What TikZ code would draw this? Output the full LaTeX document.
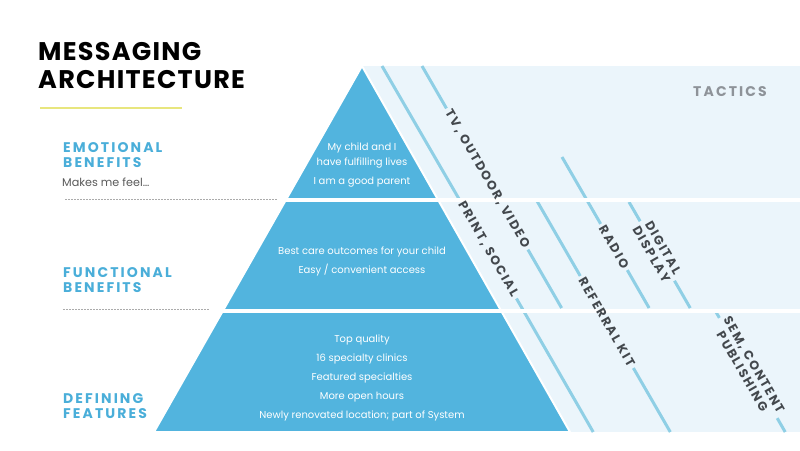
\documentclass[tikz,border=0pt]{standalone}
\usepackage{fontspec}
\usetikzlibrary{backgrounds}
\setmainfont{Poppins}
\newfontfamily\titlefont{Poppins}[LetterSpace=5]
\newfontfamily\capsfont{Poppins}[LetterSpace=15]
\newfontfamily\tacticfont{Poppins}[LetterSpace=14]
\definecolor{pyrblue}{HTML}{52B4DE}
\definecolor{paleblue}{HTML}{EBF5FB}
\definecolor{stripeblue}{HTML}{8FCFE5}
\definecolor{labelblue}{HTML}{4AAED9}
\definecolor{tacticgray}{HTML}{43484D}
\definecolor{headgray}{HTML}{8E9399}
\definecolor{dotgray}{HTML}{ABABAB}
\definecolor{accentyellow}{HTML}{E8E67E}
\begin{document}
\begin{tikzpicture}[x=1pt,y=-1pt,
    tiertext/.style={text=white,inner sep=0pt,align=center,anchor=north,font=\fontsize{10}{19}\selectfont},
    levellabel/.style={text=labelblue,inner sep=0pt,align=left,anchor=north west,font=\capsfont\bfseries\fontsize{14}{15}\selectfont},
    tactic/.style={text=tacticgray,inner sep=3pt,align=center,rotate=-60,font=\tacticfont\bfseries\fontsize{12.5}{13.5}\selectfont},
    stripe/.style={draw=stripeblue,line width=3pt},
    divider/.style={draw=dotgray,line width=0.8pt,dash pattern=on 1.5pt off 1.5pt}]
    \useasboundingbox (0,0) rectangle (800,450);

    \coordinate (printA) at (382,66);    \coordinate (printB) at (593.2,432);
    \coordinate (tvA) at (422,66);       \coordinate (tvB) at (561.6,308);
    \coordinate (refA) at (537,201);     \coordinate (refB) at (670.3,432);
    \coordinate (radioA) at (562,157);   \coordinate (radioB) at (649.1,308);
    \coordinate (digiA) at (629,202);    \coordinate (digiB) at (690.2,308);
    \coordinate (semA) at (716,312);     \coordinate (semB) at (785.2,432);

    \node[tactic] (print) at (488,249) {PRINT, SOCIAL};
    \node[tactic] (tv) at (487.2,179) {TV, OUTDOOR, VIDEO};
    \node[tactic] (referral) at (606.8,322) {REFERRAL KIT};
    \node[tactic] (radio) at (614,247) {RADIO};
    \node[tactic] (digital) at (657.3,251) {DIGITAL\\DISPLAY};
    \node[tactic] (sem) at (748.3,368) {SEM, CONTENT\\PUBLISHING};

    \begin{pgfonlayer}{background}
    \fill[paleblue] (362,66) rectangle (800,432);
    \draw[stripe] (printA) -- (print) -- (printB);
    \draw[stripe] (tvA) -- (tv) -- (tvB);
    \draw[stripe] (refA) -- (referral) -- (refB);
    \draw[stripe] (radioA) -- (radio) -- (radioB);
    \draw[stripe] (digiA) -- (digital) -- (digiB);
    \draw[stripe] (semA) -- (sem) -- (semB);
    \filldraw[fill=pyrblue,draw=white,line width=2pt] (362,66) -- (570,432) -- (154,432) -- cycle;
    \fill[white] (282,198) rectangle (800,201.5);
    \fill[white] (218,309) rectangle (800,312.5);
    \end{pgfonlayer}

    \node (tactics) at (730,92) {\color{headgray}\capsfont\bfseries\fontsize{14}{15}\selectfont TACTICS};

    \node[tiertext] (emotxt) at (362,142.6) {My child and I\\[-4pt]have fulfilling lives};
    \node[tiertext] (parent) at (362,176.6) {I am a good parent};
    \node[tiertext] (functxt) at (362,246.6) {Best care outcomes for your child\\Easy / convenient access};
    \node[tiertext] (feattxt) at (362,334.6) {Top quality\\16 specialty clinics\\Featured specialties\\More open hours\\Newly renovated location; part of System};

    \node[anchor=north west,inner sep=0pt,align=left,font=\titlefont\bfseries\fontsize{25.5}{28}\selectfont] (title) at (38,42) {MESSAGING\\ARCHITECTURE};
    \draw[accentyellow,line width=1.8pt] (40,108) -- (182,108);

    \node[levellabel] (emo) at (63,142) {EMOTIONAL\\BENEFITS};
    \node[anchor=base west,inner sep=0pt,text=black!65,font=\fontsize{11.2}{13}\selectfont] (feel) at (62,186) {Makes me feel…};
    \node[levellabel] (func) at (63,267) {FUNCTIONAL\\BENEFITS};
    \node[levellabel] (defin) at (63,393) {DEFINING\\FEATURES};

    \draw[divider] (65,199.5) -- (278,199.5);
    \draw[divider] (63,309) -- (210,309);
\end{tikzpicture}
\end{document}
